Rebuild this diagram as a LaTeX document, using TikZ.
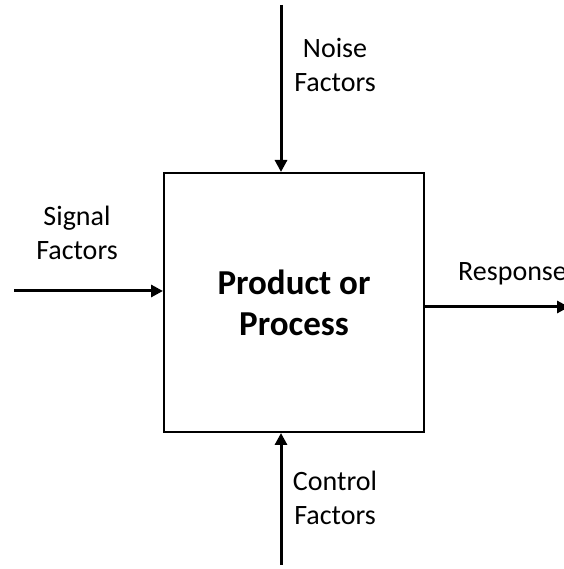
\documentclass[tikz,border=0pt]{standalone}
\usepackage{fontspec}
\setmainfont{Carlito}
\usepackage{tikz}
\usetikzlibrary{arrows.meta,positioning}

\tikzset{
  factor/.style={font=\fontsize{28}{34}\selectfont, align=center, inner sep=0pt},
  flow/.style={line width=3pt, -{Triangle[length=12pt,width=12pt]}},
}

\begin{document}
\begin{tikzpicture}[x=1pt,y=1pt]
\useasboundingbox (0,0) rectangle (563,569);
\node[draw, line width=2pt, minimum width=260pt, minimum height=259pt,
      font=\bfseries\fontsize{35}{41}\selectfont, align=center] (proc) at (294,266.5)
      {Product or\\Process};
\coordinate (noise) at (281,564);
\coordinate (signal) at (14,278);
\coordinate (resp) at (569,262);
\coordinate (ctrl) at (281,4);
\draw[flow] (noise) -- (noise |- proc.north);
\draw[flow] (signal) -- (signal -| proc.west);
\draw[flow] (proc.east |- resp) -- (resp);
\draw[flow] (ctrl) -- (ctrl |- proc.south);
\node[factor] (noiselbl) at (335,504) {Noise\\Factors};
\node[factor] (signallbl) at (77,336) {Signal\\Factors};
\node[factor, anchor=west] (resplbl) at (458,295) {Response};
\node[factor] (ctrllbl) at (335,71) {Control\\Factors};
\end{tikzpicture}
\end{document}
